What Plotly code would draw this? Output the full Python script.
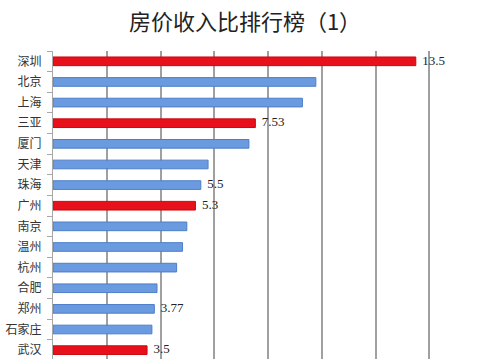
import plotly.graph_objects as go

cities = ["深圳", "北京", "上海", "三亚", "厦门", "天津", "珠海", "广州",
          "南京", "温州", "杭州", "合肥", "郑州", "石家庄", "武汉"]
ratios = [13.5, 9.78, 9.28, 7.53, 7.29, 5.77, 5.5, 5.3,
          4.98, 4.82, 4.6, 3.87, 3.77, 3.68, 3.5]
highlight = ["深圳", "三亚", "广州", "武汉"]
labels = {"深圳": "13.5", "三亚": "7.53", "珠海": "5.5", "广州": "5.3",
          "郑州": "3.77", "武汉": "3.5"}

RED = "#E8101A"
BLUE = "#6A9ADF"

colors = [RED if c in highlight else BLUE for c in cities]
line_colors = ["#C80A12" if c in highlight else "#4E7EC8" for c in cities]
label_x = [v for c, v in zip(cities, ratios) if c in labels]
label_y = [c for c in cities if c in labels]
label_t = [labels[c] for c in cities if c in labels]

fig = go.Figure()
fig.add_trace(go.Bar(
    x=ratios, y=cities, orientation="h",
    marker=dict(color=colors, line=dict(color=line_colors, width=1)),
    width=0.42,
    showlegend=False, hoverinfo="skip",
))
fig.add_trace(go.Scatter(
    x=label_x, y=label_y, mode="text", text=[" " * 2 + t for t in label_t],
    textposition="middle right", cliponaxis=False,
    textfont=dict(family="Liberation Serif, DejaVu Serif, serif", size=13, color="#222"),
    showlegend=False, hoverinfo="skip",
))

fig.update_layout(
    width=500, height=359,
    margin=dict(l=53, r=17, t=51, b=0),
    paper_bgcolor="white", plot_bgcolor="white",
    title=dict(text="房价收入比排行榜（1）", x=0.49, xanchor="center", y=0.958, yanchor="top",
               font=dict(family="Noto Sans CJK SC", size=22, color="#222")),
    xaxis=dict(range=[0, 16], dtick=2, showgrid=True, gridcolor="#a0a0a0", gridwidth=1.5,
               showticklabels=False, zeroline=False, showline=False, ticks="",
               automargin=False),
    yaxis=dict(type="category", categoryorder="array", categoryarray=cities,
               range=[14.43, -0.5], showline=True, linecolor="#a8a8a8", linewidth=1,
               ticks="outside", tickson="boundaries", ticklen=5, tickcolor="#a8a8a8",
               ticklabelstandoff=8,
               tickfont=dict(family="Noto Sans CJK SC", size=12, color="#333"),
               showgrid=False, automargin=False),
)

fig.write_html("out.html", config={"displayModeBar": False},
               post_script="document.body.style.margin='0';document.body.style.overflow='hidden';")
